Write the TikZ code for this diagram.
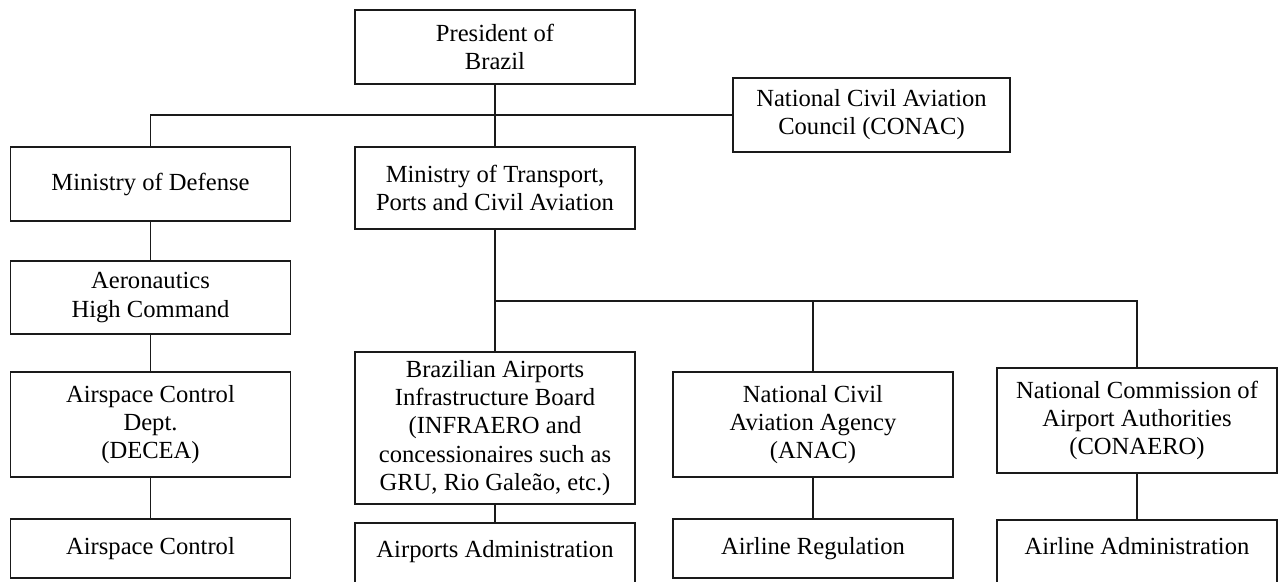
\documentclass[tikz,border=0pt]{standalone}
\usepackage{fontspec}
\setmainfont{Liberation Serif}
\definecolor{lgrau}{HTML}{1a1a1a}

\begin{document}
\begin{tikzpicture}[x=0.02cm, y=-0.02cm,
    box/.style={draw=lgrau, line width=0.9pt, align=center, minimum width=5.6cm, inner sep=0pt, font=\fontsize{14}{16}\selectfont},
    openbox/.style={box, anchor=north, text height=20pt, text depth=20pt},
    link/.style={draw=lgrau, line width=0.9pt}]
        \clip (0,0) rectangle (1283,581);
        \node[box, minimum height=1.48cm] (P) at (495,47) {President of\\Brazil};
        \node[box, minimum height=1.48cm, minimum width=5.54cm] (C) at (871.5,115) {National Civil Aviation\\Council (CONAC)};
        \node[box, minimum height=1.48cm] (MD) at (150.5,184) {Ministry of Defense};
        \node[box, minimum height=1.64cm] (MT) at (495,188) {Ministry of Transport,\\Ports and Civil Aviation};
        \node[box, minimum height=1.46cm] (AH) at (150.5,297.5) {Aeronautics\\High Command};
        \node[box, minimum height=2.1cm] (DC) at (150.5,424.5) {Airspace Control\\Dept.\\(DECEA)};
        \node[box, minimum height=1.18cm] (AC) at (150.5,548.5) {Airspace Control};
        \node[box, minimum height=3.04cm] (IB) at (495,428) {Brazilian Airports\\Infrastructure Board\\(INFRAERO and\\concessionaires such as\\GRU, Rio Galeão, etc.)};
        \node[openbox] (AA) at (495,522) {Airports Administration};
        \node[box, minimum height=2.1cm] (AN) at (813,424.5) {National Civil\\Aviation Agency\\(ANAC)};
        \node[box, minimum height=1.18cm] (AR) at (813,548.5) {Airline Regulation};
        \node[box, minimum height=2.1cm] (CA) at (1137,420.5) {National Commission of\\Airport Authorities\\(CONAERO)};
        \node[openbox] (AL) at (1137,519) {Airline Administration};
        \coordinate (J) at (495,301);
        \path[link] (P) -- (MT);
        \path[link] (MD.north) |- (C.west);
        \path[link] (MD) -- (AH);
        \path[link] (AH) -- (DC);
        \path[link] (DC) -- (AC);
        \path[link] (MT) -- (IB);
        \path[link] (J) -| (AN.north);
        \path[link] (J) -| (CA.north);
        \path[link] (IB) -- (AA);
        \path[link] (AN) -- (AR);
        \path[link] (CA) -- (AL);
    \end{tikzpicture}
\end{document}
